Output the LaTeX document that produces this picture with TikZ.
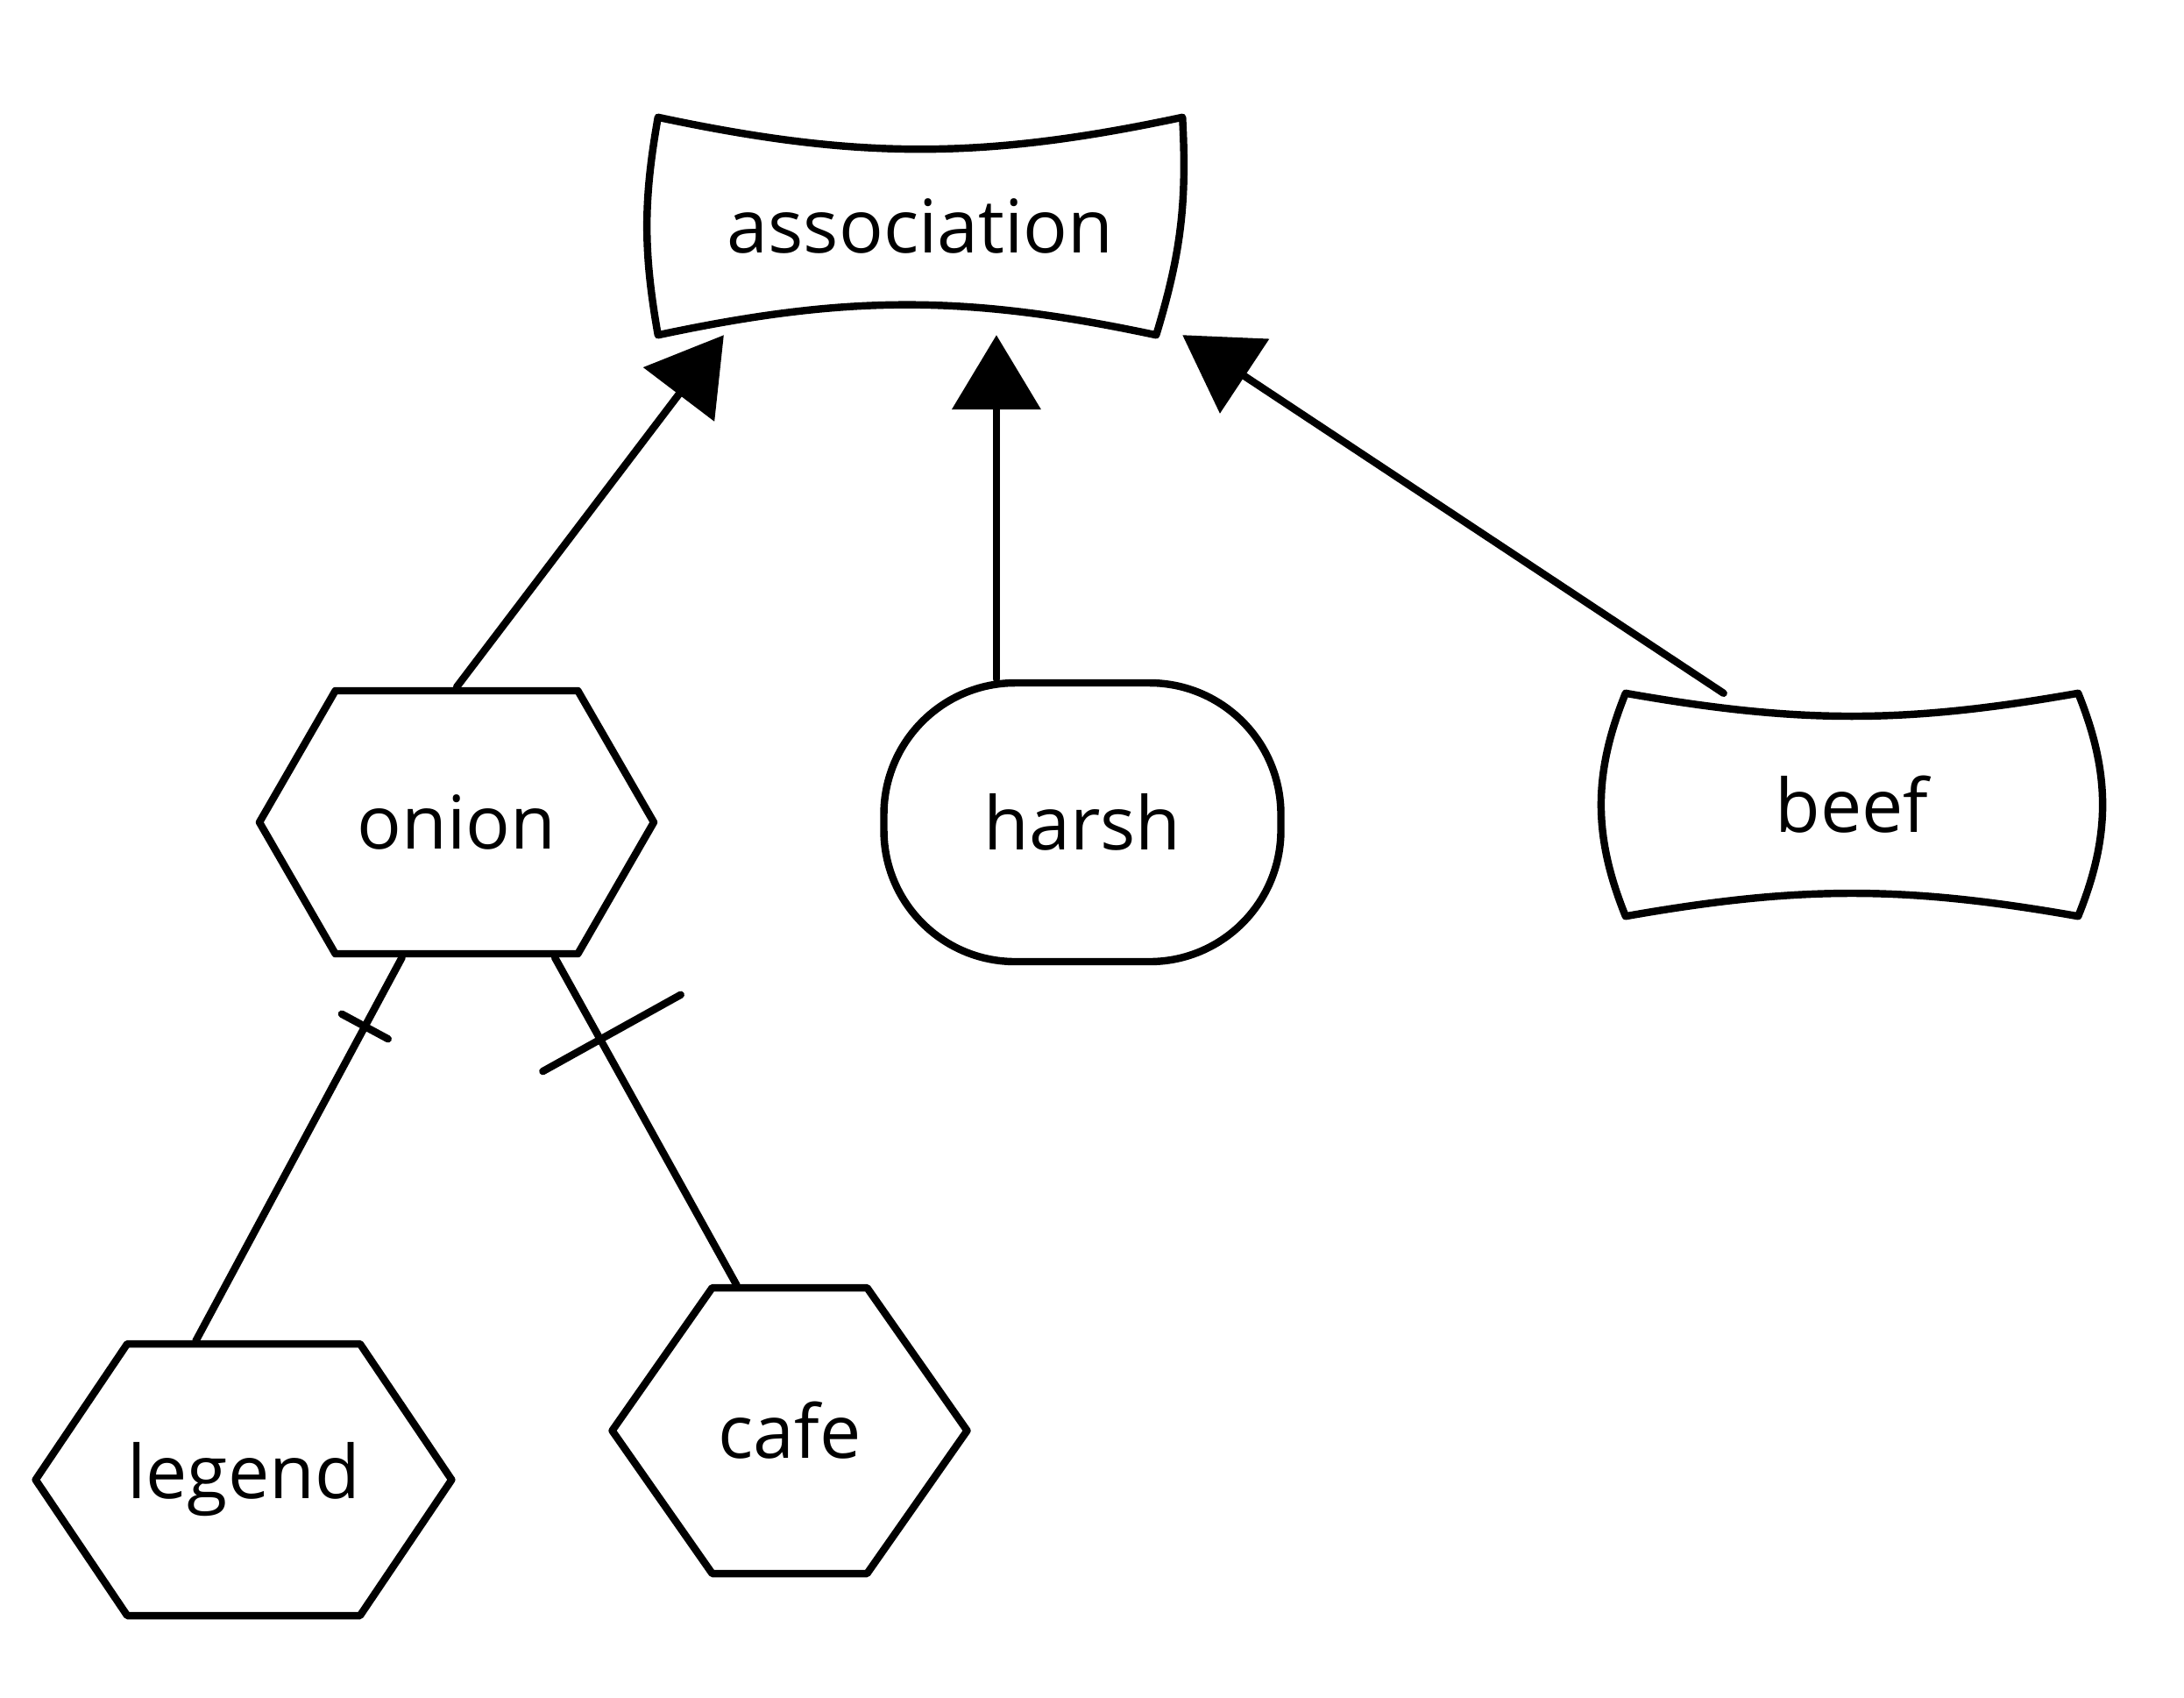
\documentclass[tikz,border=0pt]{standalone}
\usepackage{fontspec}
\setmainfont{Open Sans}
\usetikzlibrary{arrows.meta, shapes.symbols, shapes.geometric, decorations.markings}

\begin{document}
\begin{tikzpicture}[
  line width=2.4pt, line cap=round, line join=round,
  every node/.style={font=\fontsize{24}{28}\selectfont},
  blob/.style={minimum width=5.9cm, minimum height=2.4cm, inner sep=0pt},
  hexa/.style={draw, signal, signal to=east and west, signal pointer angle=#1, inner sep=0pt},
  hexa/.default=115,
  gen/.style={-{Triangle[length=0.85cm, width=1.0cm]}},
  crossmark/.style n args={3}{postaction={decorate},
    decoration={markings, mark=at position #1 with {\draw (0,#2) -- (0,#3);}}},
]
\useasboundingbox (0,0) rectangle (24.92,-19.36);

\node[blob] (association) at (10.5,-2.58) {association};
\node[hexa=120, minimum width=4.5cm, minimum height=3cm] (onion) at (5.21,-9.38) {onion};
\node[draw, rounded corners=1.5cm, minimum width=4.53cm, minimum height=3.18cm] (harsh) at (12.35,-9.38) {harsh};
\node[blob, minimum width=5.08cm, minimum height=2.46cm] (beef) at (21.13,-9.18) {beef};
\node[hexa=112, minimum width=3.75cm, minimum height=3.1cm] (legend) at (2.78,-16.88) {legend};
\node[hexa=110, minimum width=4.05cm, minimum height=3.26cm] (cafe) at (9.01,-16.32) {cafe};

\foreach \n/\b/\s/\x in {association/12/10/-0.3cm, beef/10/22/0cm}
  \draw (\n.north west) to[bend right=\b] (\n.north east) to[bend left=\s] ([xshift=\x]\n.south east)
    to[bend right=\b] (\n.south west) to[bend left=\s] (\n.north west);

\draw[gen] (onion.north) -- (association.209);
\draw[gen] (harsh.121) -- (harsh.121 |- association.south);
\draw[gen] (beef.139) -- (association.south east);
\draw[crossmark={0.18}{-0.3}{0.3}] (onion.248) -- (legend.109);
\draw[crossmark={0.25}{-0.75}{1.05}] (onion.306) -- (cafe.110);
\end{tikzpicture}
\end{document}
